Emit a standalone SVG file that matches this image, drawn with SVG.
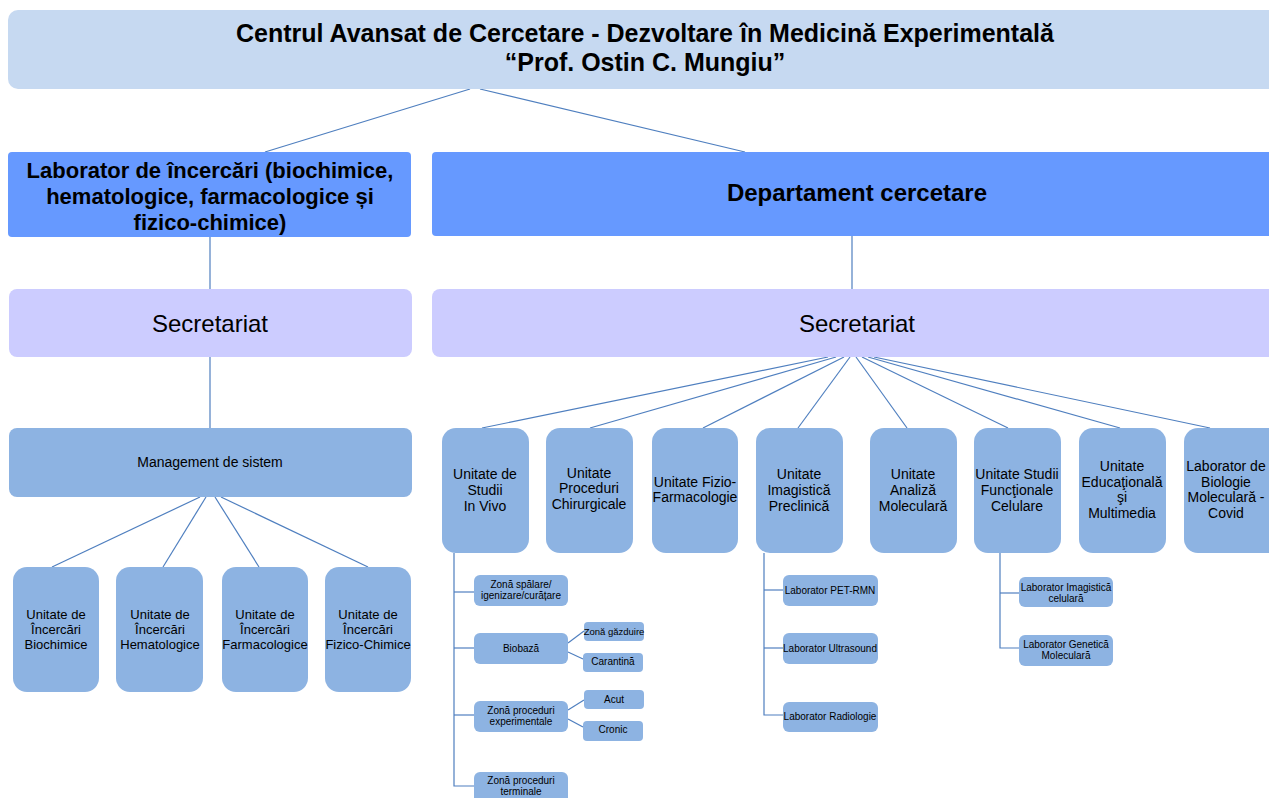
<svg xmlns="http://www.w3.org/2000/svg" width="1269" height="798" viewBox="0 0 1269 798">
<style>
text{font-family:"Liberation Sans",Arial,sans-serif;fill:#000;text-anchor:middle;dominant-baseline:central}
.top{fill:#c6d9f1}
.hdr{fill:#6699ff}
.sec{fill:#ccccff}
.unit{fill:#8db3e2}
.b{font-weight:bold}
.t25{font-size:25px}
.t24{font-size:24px}
.t22{font-size:22px}
.t14{font-size:14px}
.t13{font-size:13px}
.t10{font-size:10px}
.t95{font-size:9.5px}
#connectors line,#connectors polyline{stroke:#4f7fbf;stroke-width:1.2;fill:none}
</style>
<rect width="1269" height="798" fill="#fff"/>
<g id="connectors">
<line x1="470" y1="89" x2="265" y2="152"/>
<line x1="480" y1="89" x2="745" y2="152"/>
<line x1="210" y1="237" x2="210" y2="289"/>
<line x1="852" y1="236" x2="852" y2="289"/>
<line x1="210" y1="357" x2="210" y2="428"/>
<line x1="200" y1="497" x2="52" y2="567"/>
<line x1="206" y1="497" x2="163" y2="567"/>
<line x1="215" y1="497" x2="259" y2="567"/>
<line x1="221" y1="497" x2="368" y2="567"/>
<line x1="828" y1="357" x2="482" y2="428"/>
<line x1="836" y1="357" x2="590" y2="428"/>
<line x1="844" y1="357" x2="703" y2="428"/>
<line x1="850" y1="357" x2="798" y2="428"/>
<line x1="856" y1="357" x2="907" y2="428"/>
<line x1="862" y1="357" x2="1008" y2="428"/>
<line x1="868" y1="357" x2="1120" y2="428"/>
<line x1="874" y1="357" x2="1210" y2="428"/>
<polyline points="454,553 454,786 474,786"/>
<line x1="454" y1="592" x2="474" y2="592"/>
<line x1="454" y1="648" x2="474" y2="648"/>
<line x1="454" y1="715" x2="474" y2="715"/>
<line x1="568" y1="643" x2="584" y2="631"/>
<line x1="568" y1="652" x2="583" y2="659"/>
<line x1="568" y1="710" x2="584" y2="700"/>
<line x1="568" y1="719" x2="583" y2="727"/>
<polyline points="764,553 764,715 783,715"/>
<line x1="764" y1="590" x2="783" y2="590"/>
<line x1="764" y1="648" x2="783" y2="648"/>
<polyline points="1000,553 1000,648 1019,648"/>
<line x1="1000" y1="593" x2="1019" y2="593"/>
</g>
<g id="root">
<rect class="top" x="8" y="10" width="1280" height="79" rx="10"/>
<text class="b t25" x="645" y="33">Centrul Avansat de Cercetare - Dezvoltare în Medicină Experimentală</text>
<text class="b t25" x="645" y="62">“Prof. Ostin C. Mungiu”</text>
</g>
<g id="lab-incercari">
<rect class="hdr" x="8" y="152" width="403" height="85" rx="4"/>
<text class="b t22" x="210" y="170">Laborator de încercări (biochimice,</text>
<text class="b t22" x="210" y="196">hematologice, farmacologice și</text>
<text class="b t22" x="210" y="222">fizico-chimice)</text>
</g>
<g id="dep-cercetare">
<rect class="hdr" x="432" y="152" width="850" height="84" rx="4"/>
<text class="b t24" x="857" y="192">Departament cercetare</text>
</g>
<g id="sec-left">
<rect class="sec" x="9" y="289" width="403" height="68" rx="8"/>
<text class="t24" x="210" y="323">Secretariat</text>
</g>
<g id="sec-right">
<rect class="sec" x="432" y="289" width="850" height="68" rx="8"/>
<text class="t24" x="857" y="323">Secretariat</text>
</g>
<g id="management">
<rect class="unit" x="9" y="428" width="403" height="69" rx="8"/>
<text class="t14" x="210" y="462">Management de sistem</text>
</g>
<g id="u-biochimice">
<rect class="unit" x="13" y="567" width="86" height="125" rx="14"/>
<text class="t13" x="56" y="614">Unitate de</text><text class="t13" x="56" y="629">Încercări</text><text class="t13" x="56" y="644">Biochimice</text>
</g>
<g id="u-hematologice">
<rect class="unit" x="116" y="567" width="87" height="125" rx="14"/>
<text class="t13" x="160" y="614">Unitate de</text><text class="t13" x="160" y="629">Încercări</text><text class="t13" x="160" y="644">Hematologice</text>
</g>
<g id="u-farmacologice">
<rect class="unit" x="222" y="567" width="86" height="125" rx="14"/>
<text class="t13" x="265" y="614">Unitate de</text><text class="t13" x="265" y="629">Încercări</text><text class="t13" x="265" y="644">Farmacologice</text>
</g>
<g id="u-fizico">
<rect class="unit" x="325" y="567" width="86" height="125" rx="14"/>
<text class="t13" x="368" y="614">Unitate de</text><text class="t13" x="368" y="629">Încercări</text><text class="t13" x="368" y="644">Fizico-Chimice</text>
</g>
<g id="u-invivo">
<rect class="unit" x="442" y="428" width="87" height="125" rx="14"/>
<text class="t14" x="485" y="474">Unitate de</text><text class="t14" x="485" y="490">Studii</text><text class="t14" x="485" y="506">In Vivo</text>
</g>
<g id="u-chirurgicale">
<rect class="unit" x="546" y="428" width="87" height="125" rx="14"/>
<text class="t14" x="589" y="473">Unitate</text><text class="t14" x="589" y="488">Proceduri</text><text class="t14" x="589" y="504">Chirurgicale</text>
</g>
<g id="u-fizio">
<rect class="unit" x="652" y="428" width="86" height="125" rx="14"/>
<text class="t14" x="695" y="482">Unitate Fizio-</text><text class="t14" x="695" y="497">Farmacologie</text>
</g>
<g id="u-imagistica">
<rect class="unit" x="756" y="428" width="87" height="125" rx="14"/>
<text class="t14" x="799" y="474">Unitate</text><text class="t14" x="799" y="490">Imagistică</text><text class="t14" x="799" y="506">Preclinică</text>
</g>
<g id="u-analiza">
<rect class="unit" x="870" y="428" width="87" height="125" rx="14"/>
<text class="t14" x="913" y="474">Unitate</text><text class="t14" x="913" y="490">Analiză</text><text class="t14" x="913" y="506">Moleculară</text>
</g>
<g id="u-functionale">
<rect class="unit" x="974" y="428" width="87" height="125" rx="14"/>
<text class="t14" x="1017" y="474">Unitate Studii</text><text class="t14" x="1017" y="490">Funcţionale</text><text class="t14" x="1017" y="506">Celulare</text>
</g>
<g id="u-educationala">
<rect class="unit" x="1079" y="428" width="87" height="125" rx="14"/>
<text class="t14" x="1122" y="466">Unitate</text><text class="t14" x="1122" y="482">Educaţională</text><text class="t14" x="1122" y="497">şi</text><text class="t14" x="1122" y="513">Multimedia</text>
</g>
<g id="lab-covid">
<rect class="unit" x="1184" y="428" width="98" height="125" rx="14"/>
<text class="t14" x="1226" y="466">Laborator de</text><text class="t14" x="1226" y="482">Biologie</text><text class="t14" x="1226" y="497">Moleculară -</text><text class="t14" x="1226" y="513">Covid</text>
</g>
<g id="zona-spalare">
<rect class="unit" x="474" y="575" width="94" height="31" rx="6"/>
<text class="t10" x="521" y="584">Zonă spălare/</text><text class="t10" x="521" y="595">igenizare/curățare</text>
</g>
<g id="biobaza">
<rect class="unit" x="474" y="633" width="94" height="31" rx="6"/>
<text class="t10" x="521" y="648">Biobază</text>
</g>
<g id="zona-gazduire">
<rect class="unit" x="584" y="622" width="60" height="19" rx="4"/>
<text class="t95" x="614" y="631">Zonă găzduire</text>
</g>
<g id="carantina">
<rect class="unit" x="583" y="653" width="60" height="19" rx="4"/>
<text class="t10" x="613" y="661">Carantină</text>
</g>
<g id="zona-experimentale">
<rect class="unit" x="474" y="701" width="94" height="31" rx="6"/>
<text class="t10" x="521" y="710">Zonă proceduri</text><text class="t10" x="521" y="721">experimentale</text>
</g>
<g id="acut">
<rect class="unit" x="584" y="690" width="60" height="19" rx="4"/>
<text class="t10" x="614" y="699">Acut</text>
</g>
<g id="cronic">
<rect class="unit" x="583" y="721" width="60" height="20" rx="4"/>
<text class="t10" x="613" y="729">Cronic</text>
</g>
<g id="zona-terminale">
<rect class="unit" x="474" y="772" width="94" height="32" rx="6"/>
<text class="t10" x="521" y="780">Zonă proceduri</text><text class="t10" x="521" y="791">terminale</text>
</g>
<g id="lab-pet">
<rect class="unit" x="783" y="575" width="95" height="31" rx="6"/>
<text class="t10" x="830" y="590">Laborator PET-RMN</text>
</g>
<g id="lab-ultrasound">
<rect class="unit" x="783" y="633" width="95" height="31" rx="6"/>
<text class="t10" x="830" y="648">Laborator Ultrasound</text>
</g>
<g id="lab-radiologie">
<rect class="unit" x="783" y="702" width="95" height="30" rx="6"/>
<text class="t10" x="830" y="716">Laborator Radiologie</text>
</g>
<g id="lab-imagistica-celulara">
<rect class="unit" x="1019" y="577" width="94" height="30" rx="6"/>
<text class="t10" x="1066" y="587">Laborator Imagistică</text><text class="t10" x="1066" y="598">celulară</text>
</g>
<g id="lab-genetica">
<rect class="unit" x="1019" y="635" width="94" height="31" rx="6"/>
<text class="t10" x="1066" y="644">Laborator Genetică</text><text class="t10" x="1066" y="655">Moleculară</text>
</g>
</svg>
